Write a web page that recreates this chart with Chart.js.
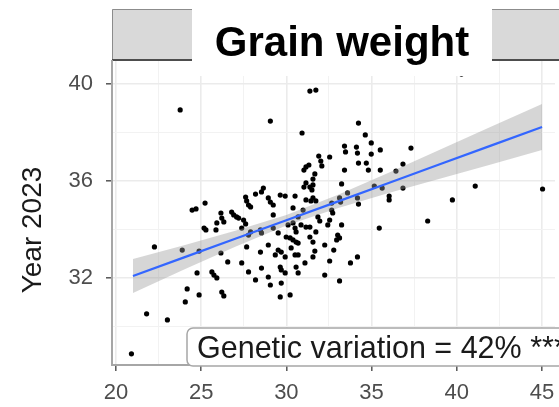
<!DOCTYPE html>
<html>
<head>
<meta charset="utf-8">
<title>Grain weight</title>
<script src="https://cdn.jsdelivr.net/npm/chart.js@4.4.1/dist/chart.umd.min.js"></script>
<style>
  html, body { margin: 0; padding: 0; background: #fff; }
  canvas { display: block; }
</style>
</head>
<body>
<canvas id="chart" width="559" height="407"></canvas>
<script>
const panelTitle = 'Grain weight';
const yAxisTitle = 'Year 2023';
const noteText = 'Genetic variation = 42% ***';

// axis breaks
const xMajor = [20, 25, 30, 35, 40, 45];
const xMinor = [22.5, 27.5, 32.5, 37.5, 42.5];
const yMajor = [32, 36, 40];
const yMinor = [30, 34, 38];

// one point per line (x = grain weight, y = year 2023)
const grainX = [
  23.77, 29.06, 31.38, 31.73, 30.92, 40.27, 34.23, 34.63, 34.98, 34.98,
  35.51, 33.41, 33.47, 34.11, 34.17, 37.31, 32.54, 34.23, 34.69, 34.81,
  33.41, 35.51, 36.84, 36.43, 35.16, 35.62, 36.84, 36.03, 36.03, 33.24,
  33.59, 34.17, 34.23, 33.12, 33.18, 41.08, 45.03, 39.74, 38.29, 35.45,
  31.90, 32.02, 32.08, 31.15, 31.32, 31.03, 31.67, 31.56, 31.15, 31.03,
  31.38, 31.50, 31.56, 31.15, 31.56, 31.44, 31.73, 32.66, 32.66, 32.72,
  32.54, 32.43, 31.85, 31.96, 30.69, 30.98, 30.86, 31.15, 31.38, 31.73,
  33.24, 33.01, 33.12, 32.95, 31.38, 31.56, 32.25, 32.78, 31.67, 31.56,
  30.69, 30.69, 32.54, 31.09, 34.17, 33.76, 32.25, 33.12, 30.69, 28.65,
  28.54, 28.19, 27.61, 27.67, 27.78, 27.90, 28.94, 29.06, 29.23, 29.64,
  29.93, 30.51, 30.39, 29.23, 27.49, 27.61, 27.38, 27.90, 27.78, 28.48,
  28.54, 29.23, 29.52, 30.10, 30.39, 30.51, 30.57, 29.99, 30.22, 30.39,
  30.57, 27.67, 28.48, 28.94, 29.52, 29.70, 29.93, 29.35, 30.28, 30.51,
  30.57, 29.64, 29.70, 29.93, 28.54, 27.78, 28.19, 27.38, 26.56, 28.94,
  29.06, 29.70, 29.64, 30.22, 24.47, 24.70, 25.23, 26.16, 26.21, 26.33,
  26.79, 26.91, 27.08, 27.20, 25.92, 25.87, 25.17, 25.28, 22.26, 23.89,
  24.88, 26.16, 24.76, 25.63, 25.75, 25.92, 24.18, 24.88, 26.21, 26.33,
  24.07, 21.80, 23.02, 20.91
];
const grainY = [
  38.93, 38.47, 39.71, 39.75, 37.98, 40.41, 38.39, 37.90, 37.57, 37.11,
  37.28, 37.44, 37.20, 37.40, 37.15, 37.36, 36.99, 36.74, 36.74, 36.45,
  36.45, 36.45, 36.70, 36.41, 35.79, 35.71, 35.71, 35.38, 35.22, 35.88,
  35.51, 35.30, 35.05, 35.30, 35.13, 35.79, 35.67, 35.22, 34.35, 34.06,
  37.03, 36.82, 36.62, 36.58, 36.66, 36.45, 36.29, 36.08, 35.92, 35.75,
  35.75, 35.63, 35.84, 35.22, 35.30, 35.18, 35.18, 35.09, 34.80, 34.68,
  34.39, 34.19, 34.52, 34.35, 34.52, 34.80, 34.19, 34.10, 34.10, 33.90,
  34.19, 33.77, 33.65, 33.57, 33.69, 33.48, 33.36, 33.15, 33.11, 32.87,
  33.44, 32.95, 32.70, 32.62, 32.87, 32.62, 32.12, 31.88, 32.21, 35.71,
  35.55, 35.46, 35.34, 35.18, 35.01, 34.93, 35.30, 35.13, 35.01, 35.42,
  35.38, 35.38, 34.89, 34.60, 34.39, 34.23, 34.06, 33.90, 33.77, 33.98,
  33.86, 34.06, 33.86, 34.19, 34.27, 34.06, 33.90, 33.69, 33.65, 33.57,
  33.48, 33.28, 33.07, 33.36, 33.15, 33.07, 32.87, 32.95, 33.24, 32.95,
  32.45, 32.45, 32.33, 32.21, 32.41, 32.25, 31.92, 32.62, 32.66, 32.04,
  31.71, 31.79, 31.22, 31.30, 34.80, 34.85, 35.09, 34.68, 34.47, 34.31,
  34.72, 34.60, 34.52, 34.47, 34.27, 33.98, 34.06, 33.98, 33.28, 33.15,
  33.11, 33.03, 32.21, 32.25, 32.12, 32.00, 31.55, 31.30, 31.42, 31.26,
  31.01, 30.52, 30.27, 28.87
];

// linear fit and its confidence band
const fitX = [21, 24, 27, 30, 33, 36, 39, 42, 45];
const fitY = [32.08, 32.85, 33.62, 34.38, 35.15, 35.92, 36.69, 37.46, 38.23];
const ciLow = [31.38, 32.35, 33.29, 34.16, 34.88, 35.50, 36.09, 36.68, 37.28];
const ciHigh = [32.78, 33.35, 33.95, 34.60, 35.42, 36.34, 37.29, 38.24, 39.18];

const FONT = "'Liberation Sans', Arial, sans-serif";

const toXY = (xs, ys) => xs.map((x, i) => ({ x: x, y: ys[i] }));
const allTicks = (major, minor) => major.concat(minor).sort((a, b) => a - b).map(v => ({ value: v }));

// strip on top, title box, y title, note label
const panelDecor = {
  id: 'panelDecor',
  beforeDraw(chart) {
    const { ctx, chartArea } = chart;
    ctx.save();
    ctx.fillStyle = '#fff';
    ctx.fillRect(0, 0, chart.width, chart.height);
    const top = 9;
    const bottom = chartArea.top;
    ctx.fillStyle = '#d9d9d9';
    ctx.fillRect(chartArea.left, top, chart.width - chartArea.left, bottom - top);
    ctx.strokeStyle = '#8c8c8c';
    ctx.lineWidth = 1;
    ctx.beginPath();
    ctx.moveTo(chartArea.left + 0.5, bottom);
    ctx.lineTo(chartArea.left + 0.5, top + 0.5);
    ctx.lineTo(chart.width, top + 0.5);
    ctx.stroke();
    ctx.strokeStyle = '#4d4d4d';
    ctx.lineWidth = 2;
    ctx.beginPath();
    ctx.moveTo(chartArea.left, bottom - 1);
    ctx.lineTo(chart.width, bottom - 1);
    ctx.stroke();
    ctx.restore();
  },
  afterDraw(chart) {
    const { ctx, chartArea } = chart;
    ctx.save();
    // white box behind the title
    ctx.fillStyle = '#fff';
    ctx.fillRect(192, 0, 300, 76);
    ctx.fillStyle = '#000';
    ctx.font = 'bold 42px ' + FONT;
    ctx.textAlign = 'center';
    ctx.textBaseline = 'alphabetic';
    ctx.fillText(panelTitle, 342, 56);

    // y axis title
    ctx.save();
    ctx.translate(33, 230);
    ctx.rotate(-Math.PI / 2);
    ctx.fillStyle = '#1a1a1a';
    ctx.font = '28px ' + FONT;
    ctx.textAlign = 'center';
    ctx.textBaseline = 'middle';
    ctx.fillText(yAxisTitle, 0, 0);
    ctx.restore();

    // note label in the bottom of the panel
    const bx = 187, by = 328, bw = 420, bh = chartArea.bottom - by + 1, r = 6;
    ctx.beginPath();
    ctx.moveTo(bx + r, by);
    ctx.lineTo(bx + bw - r, by);
    ctx.arcTo(bx + bw, by, bx + bw, by + r, r);
    ctx.lineTo(bx + bw, by + bh - r);
    ctx.arcTo(bx + bw, by + bh, bx + bw - r, by + bh, r);
    ctx.lineTo(bx + r, by + bh);
    ctx.arcTo(bx, by + bh, bx, by + bh - r, r);
    ctx.lineTo(bx, by + r);
    ctx.arcTo(bx, by, bx + r, by, r);
    ctx.closePath();
    ctx.fillStyle = '#fff';
    ctx.fill();
    ctx.strokeStyle = '#a6a6a6';
    ctx.lineWidth = 1.5;
    ctx.stroke();
    ctx.fillStyle = '#1a1a1a';
    ctx.font = '30.5px ' + FONT;
    ctx.textAlign = 'left';
    ctx.fillText(noteText, 197, 358);
    ctx.restore();
  }
};

const gridColor = majors => c => majors.includes(c.tick.value) ? '#ebebeb' : '#f2f2f2';
const gridWidth = majors => c => majors.includes(c.tick.value) ? 1.6 : 1;
const tickColor = majors => c => majors.includes(c.tick.value) ? '#555' : 'rgba(0,0,0,0)';

new Chart(document.getElementById('chart'), {
  type: 'scatter',
  data: {
    datasets: [
      {
        type: 'line',
        label: 'fit',
        data: toXY(fitX, fitY),
        borderColor: '#3366ff',
        borderWidth: 2.2,
        pointRadius: 0,
        fill: false,
        order: 0
      },
      {
        type: 'line',
        label: 'ci low',
        data: toXY(fitX, ciLow),
        borderColor: 'rgba(0,0,0,0)',
        borderWidth: 0,
        pointRadius: 0,
        fill: false,
        order: 1
      },
      {
        type: 'line',
        label: 'ci high',
        data: toXY(fitX, ciHigh),
        borderColor: 'rgba(0,0,0,0)',
        borderWidth: 0,
        pointRadius: 0,
        fill: '-1',
        backgroundColor: 'rgba(153,153,153,0.4)',
        order: 1
      },
      {
        label: 'lines',
        data: toXY(grainX, grainY),
        pointRadius: 2.6,
        backgroundColor: '#000',
        borderWidth: 0,
        order: 2
      }
    ]
  },
  options: {
    responsive: false,
    animation: false,
    events: [],
    layout: { padding: { top: 61, left: 0, right: 0, bottom: 0 } },
    plugins: {
      legend: { display: false },
      tooltip: { enabled: false }
    },
    scales: {
      x: {
        type: 'linear',
        min: 19.77,
        max: 45.76,
        afterBuildTicks: s => { s.ticks = allTicks(xMajor, xMinor); },
        afterFit: s => { s.height = 42; s.paddingRight = 0; },
        border: { color: '#a6a6a6', width: 2 },
        grid: {
          color: gridColor(xMajor),
          lineWidth: gridWidth(xMajor),
          tickColor: tickColor(xMajor),
          tickLength: 6,
          tickWidth: 1.5
        },
        ticks: {
          autoSkip: false,
          maxRotation: 0,
          padding: 9,
          color: '#4d4d4d',
          font: { size: 22, family: FONT },
          callback: v => xMajor.includes(v) ? String(v) : ''
        }
      },
      y: {
        type: 'linear',
        min: 28.41,
        max: 40.95,
        afterBuildTicks: s => { s.ticks = allTicks(yMajor, yMinor); },
        afterFit: s => { s.width = 112; },
        border: { color: '#a6a6a6', width: 2 },
        grid: {
          color: gridColor(yMajor),
          lineWidth: gridWidth(yMajor),
          tickColor: tickColor(yMajor),
          tickLength: 6,
          tickWidth: 1.5
        },
        ticks: {
          autoSkip: false,
          padding: 13,
          color: '#4d4d4d',
          font: { size: 22, family: FONT },
          callback: v => yMajor.includes(v) ? String(v) : ''
        }
      }
    }
  },
  plugins: [panelDecor]
});
</script>
</body>
</html>
